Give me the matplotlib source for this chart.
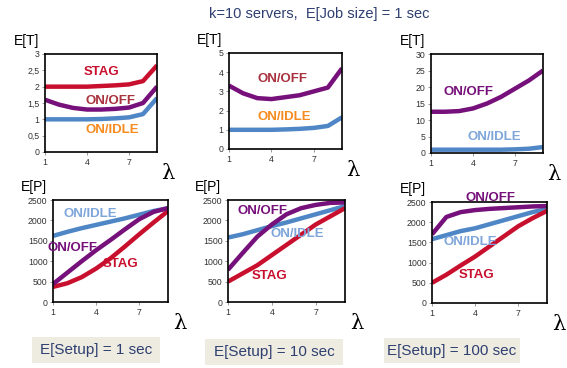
import numpy as np
import matplotlib.pyplot as plt

plt.rcParams['font.family'] = ['Liberation Sans', 'DejaVu Sans']

lam = [1, 2, 3, 4, 5, 6, 7, 8, 9]

# E[T] curves
et1_stag = [2.0, 2.0, 2.0, 2.0, 2.02, 2.04, 2.07, 2.17, 2.65]
et1_onoff = [1.6, 1.45, 1.35, 1.3, 1.3, 1.32, 1.36, 1.5, 2.0]
et1_onidle = [1.0, 1.0, 1.0, 1.0, 1.01, 1.03, 1.06, 1.16, 1.65]
et2_onoff = [3.3, 2.9, 2.65, 2.6, 2.7, 2.8, 3.0, 3.2, 4.2]
et2_onidle = [1.0, 1.0, 1.0, 1.0, 1.02, 1.05, 1.1, 1.2, 1.65]
et3_onoff = [12.5, 12.5, 12.7, 13.5, 15.0, 17.0, 19.5, 22.0, 25.0]
et3_onidle = [1.0, 1.0, 1.0, 1.0, 1.0, 1.0, 1.1, 1.3, 1.8]

# E[P] curves
ep1_onidle = [1620, 1720, 1810, 1890, 1970, 2050, 2140, 2230, 2300]
ep1_onoff = [440, 720, 1000, 1270, 1520, 1780, 2030, 2210, 2300]
ep1_stag = [370, 460, 610, 820, 1070, 1360, 1660, 1950, 2230]
ep2_onidle = [1580, 1660, 1760, 1860, 1950, 2050, 2150, 2250, 2350]
ep2_onoff = [790, 1200, 1600, 1900, 2150, 2300, 2380, 2430, 2440]
ep2_stag = [500, 700, 900, 1150, 1400, 1650, 1900, 2100, 2300]
ep3_onidle = [1580, 1680, 1780, 1850, 1950, 2050, 2150, 2250, 2330]
ep3_onoff = [1700, 2130, 2250, 2300, 2330, 2350, 2370, 2390, 2400]
ep3_stag = [500, 700, 930, 1150, 1400, 1650, 1900, 2100, 2280]

setup_labels = ["E[Setup] = 1 sec", "E[Setup] = 10 sec", "E[Setup] = 100 sec"]

RED = "#C8102E"
PURPLE = "#76107A"
BLUE = "#4F86C6"
LBLUE = "#7FA6DA"
MAROON = "#A8323E"
ORANGE = "#F68B1F"
NAVY = "#2E3F70"

W, H = 567, 368
fig = plt.figure(figsize=(W / 100, H / 100), dpi=100)


def add_ax(x0, y0, x1, y1):
    return fig.add_axes([x0 / W, (H - y1) / H, (x1 - x0) / W, (y1 - y0) / H])


def style(ax, ylim, yticks, ylabels, ylab):
    ax.set_xlim(1, 9)
    ax.set_ylim(*ylim)
    ax.set_xticks([1, 4, 7])
    ax.set_yticks(yticks)
    ax.set_yticklabels(ylabels)
    ax.tick_params(labelsize=6.3, length=2, width=0.6, color="#888888", pad=2, labelcolor="#333333")
    for s in ax.spines.values():
        s.set_linewidth(1.2)
        s.set_color("black")
    ax.text(-0.28, 1.06, ylab, transform=ax.transAxes, fontsize=10, ha="left", va="bottom")
    ax.text(1.1, -0.12, "λ", transform=ax.transAxes, fontsize=15, ha="center", va="top",
            family=["DejaVu Serif"])


def txt(x, y, s, c):
    fig.text(x / W, 1 - y / H, s, color=c, fontsize=9.5, fontweight="bold", ha="center", va="center")


lw = 3.2
kw = dict(solid_capstyle="butt", solid_joinstyle="round")

ax1 = add_ax(45, 54, 157, 152)
ax1.plot(lam, et1_stag, color=RED, lw=lw, **kw)
ax1.plot(lam, et1_onoff, color=PURPLE, lw=lw, **kw)
ax1.plot(lam, et1_onidle, color=BLUE, lw=lw, **kw)
style(ax1, (0, 3), [0, 0.5, 1, 1.5, 2, 2.5, 3], ["0", "0,5", "1", "1,5", "2", "2,5", "3"], "E[T]")
txt(102, 72, "STAG", RED)
txt(110, 101, "ON/OFF", MAROON)
txt(112, 130, "ON/IDLE", ORANGE)

ax2 = add_ax(229, 53, 342, 149)
ax2.plot(lam, et2_onoff, color=PURPLE, lw=lw, **kw)
ax2.plot(lam, et2_onidle, color=BLUE, lw=lw, **kw)
style(ax2, (0, 5), [0, 1, 2, 3, 4, 5], ["0", "1", "2", "3", "4", "5"], "E[T]")
txt(282, 79, "ON/OFF", MAROON)
txt(284, 117, "ON/IDLE", ORANGE)

ax3 = add_ax(431, 54, 543, 153)
ax3.plot(lam, et3_onoff, color=PURPLE, lw=lw, **kw)
ax3.plot(lam, et3_onidle, color=BLUE, lw=lw, **kw)
style(ax3, (0, 30), [0, 5, 10, 15, 20, 25, 30], ["0", "5", "10", "15", "20", "25", "30"], "E[T]")
txt(469, 92, "ON/OFF", PURPLE)
txt(494, 137, "ON/IDLE", LBLUE)

pticks = [0, 500, 1000, 1500, 2000, 2500]
plabels = [str(v) for v in pticks]

ax4 = add_ax(53, 200, 168, 302)
ax4.plot(lam, ep1_onidle, color=BLUE, lw=lw, **kw)
ax4.plot(lam, ep1_stag, color=RED, lw=lw, **kw)
ax4.plot(lam, ep1_onoff, color=PURPLE, lw=lw, **kw)
style(ax4, (0, 2500), pticks, plabels, "E[P]")
txt(90, 214, "ON/IDLE", LBLUE)
txt(72, 248, "ON/OFF", PURPLE)
txt(121, 264, "STAG", RED)

ax5 = add_ax(228, 200, 345, 302)
ax5.plot(lam, ep2_onidle, color=BLUE, lw=lw, **kw)
ax5.plot(lam, ep2_stag, color=RED, lw=lw, **kw)
ax5.plot(lam, ep2_onoff, color=PURPLE, lw=lw, **kw)
style(ax5, (0, 2500), pticks, plabels, "E[P]")
txt(263, 211, "ON/OFF", PURPLE)
txt(297, 234, "ON/IDLE", LBLUE)
txt(270, 276, "STAG", RED)

ax6 = add_ax(432, 202, 547, 303)
ax6.plot(lam, ep3_onidle, color=BLUE, lw=lw, **kw)
ax6.plot(lam, ep3_stag, color=RED, lw=lw, **kw)
ax6.plot(lam, ep3_onoff, color=PURPLE, lw=lw, **kw)
style(ax6, (0, 2500), pticks, plabels, "E[P]")
txt(491, 198, "ON/OFF", PURPLE)
txt(470, 242, "ON/IDLE", LBLUE)
txt(477, 275, "STAG", RED)

# title
fig.text(319 / W, 1 - 14 / H, "k=10 servers,  E[Job size] = 1 sec", color=NAVY,
         fontsize=10.5, ha="center", va="center")

# setup boxes
boxes = [(32, 337, 160, 363), (205, 339, 343, 365), (384, 338, 520, 363)]
for (x0, y0, x1, y1), lab in zip(boxes, setup_labels):
    fig.patches.append(plt.Rectangle((x0 / W, 1 - y1 / H), (x1 - x0) / W, (y1 - y0) / H,
                                     transform=fig.transFigure, facecolor="#EEEBE1",
                                     edgecolor="none"))
    fig.text((x0 + x1) / 2 / W, 1 - (y0 + y1) / 2 / H, lab, color=NAVY, fontsize=11,
             ha="center", va="center")

fig.savefig("out.png", dpi=100)
